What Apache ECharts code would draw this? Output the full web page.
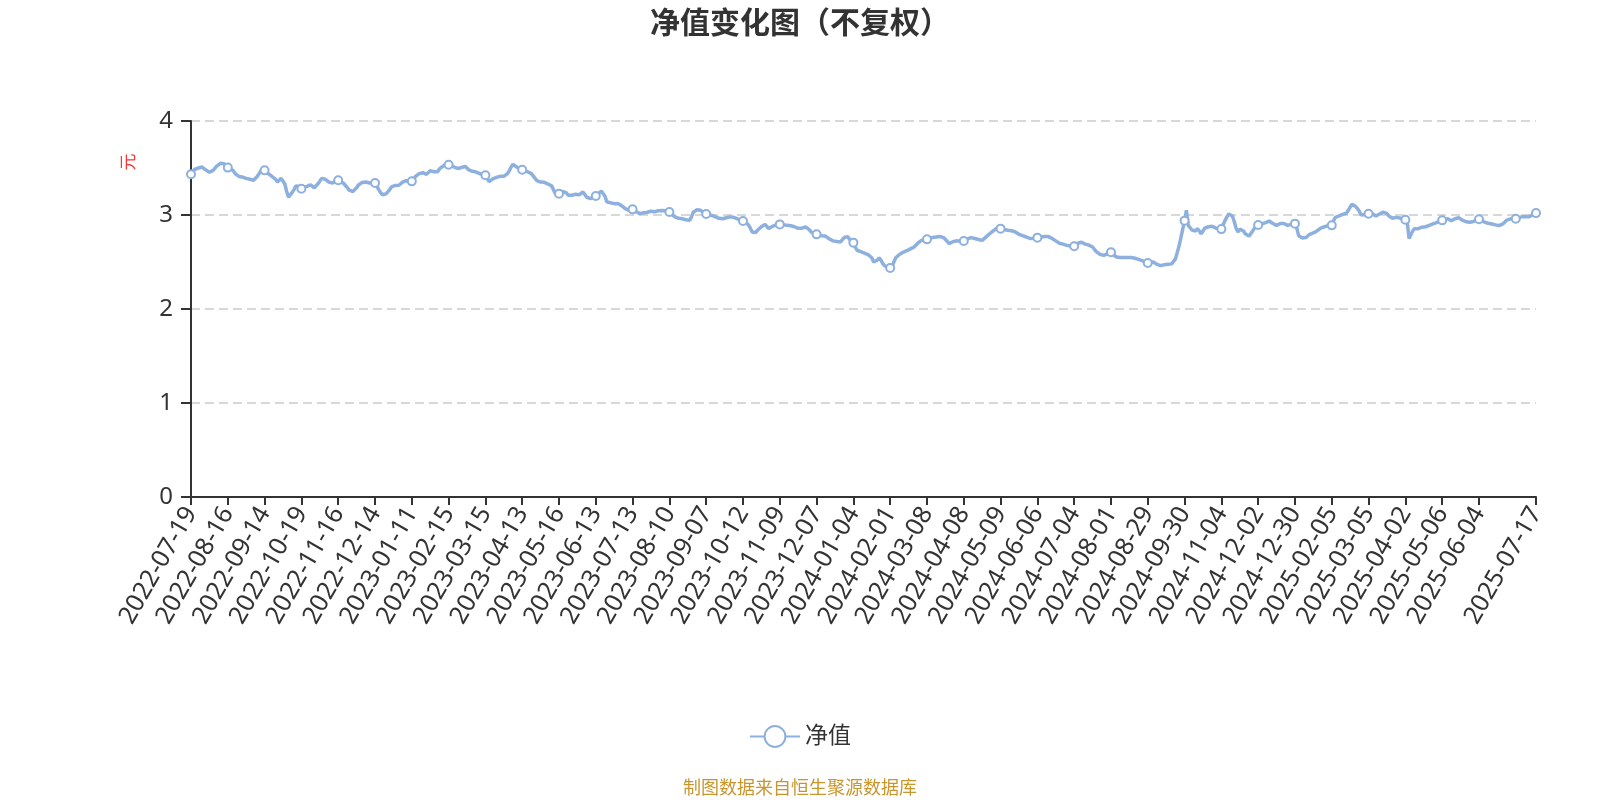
<!DOCTYPE html>
<html>
<head>
<meta charset="utf-8">
<script src="https://cdn.jsdelivr.net/npm/echarts@6/dist/echarts.min.js"></script>
<style>html,body{margin:0;padding:0;background:#fff}#c{width:1600px;height:800px}</style>
</head>
<body>
<div id="c"></div>
<script>
const chartTitle = '净值变化图（不复权）';
const sourceNote = '制图数据来自恒生聚源数据库';
const seriesName = '净值';
const unitName = '元';
const startDate = '2022-07-19';
const endDate = '2025-07-17';
const marketHolidays = [
  '2022-09-12','2022-10-03','2022-10-04','2022-10-05','2022-10-06','2022-10-07',
  '2023-01-02','2023-01-23','2023-01-24','2023-01-25','2023-01-26','2023-01-27',
  '2023-04-05','2023-05-01','2023-05-02','2023-05-03','2023-06-22','2023-06-23',
  '2023-09-29','2023-10-02','2023-10-03','2023-10-04','2023-10-05','2023-10-06',
  '2024-01-01','2024-02-09','2024-02-12','2024-02-13','2024-02-14','2024-02-15','2024-02-16',
  '2024-04-04','2024-04-05','2024-05-01','2024-05-02','2024-05-03','2024-06-10',
  '2024-09-16','2024-09-17','2024-10-01','2024-10-02','2024-10-03','2024-10-04','2024-10-07',
  '2025-01-01','2025-01-28','2025-01-29','2025-01-30','2025-01-31','2025-02-03','2025-02-04',
  '2025-04-04','2025-05-01','2025-05-02','2025-05-05','2025-06-02'
];
// quarter-end NAV dates that fall on weekends
const extraNavDates = ['2022-12-31','2023-09-30','2023-12-31','2024-03-31','2024-06-30'];
const navValues = [
3.433,3.46,3.485,3.493,3.50,3.505,3.51,3.505,3.48,3.46,3.455,3.46,3.475,3.49,3.52,3.54,3.55,3.555,3.545,3.52,
3.504,3.50,3.49,3.47,3.44,3.42,3.41,3.405,3.404,3.40,3.39,3.385,3.38,3.376,3.37,3.38,3.41,3.44,3.47,3.49,
3.475,3.46,3.44,3.422,3.41,3.404,3.38,3.351,3.335,3.39,3.36,3.33,3.25,3.19,3.20,3.24,3.27,3.31,3.33,3.30,
3.28,3.29,3.30,3.305,3.31,3.32,3.316,3.29,3.31,3.333,3.36,3.39,3.404,3.38,3.369,3.35,3.333,3.34,3.36,3.37,
3.369,3.36,3.35,3.335,3.316,3.29,3.265,3.245,3.25,3.262,3.29,3.32,3.34,3.345,3.35,3.351,3.345,3.34,3.345,3.34,
3.34,3.31,3.27,3.24,3.215,3.209,3.225,3.245,3.27,3.30,3.31,3.315,3.31,3.316,3.33,3.35,3.369,3.365,3.36,3.355,
3.358,3.38,3.41,3.425,3.44,3.457,3.45,3.44,3.433,3.45,3.47,3.475,3.46,3.447,3.46,3.49,3.511,3.52,3.54,3.546,
3.535,3.53,3.52,3.51,3.50,3.495,3.493,3.505,3.515,3.518,3.50,3.48,3.47,3.465,3.46,3.457,3.45,3.44,3.43,3.422,
3.422,3.39,3.355,3.36,3.385,3.397,3.40,3.405,3.411,3.41,3.411,3.42,3.44,3.47,3.51,3.539,3.53,3.511,3.50,3.49,
3.482,3.475,3.465,3.46,3.457,3.44,3.42,3.39,3.365,3.355,3.35,3.352,3.348,3.345,3.33,3.32,3.31,3.27,3.23,3.225,
3.227,3.24,3.25,3.255,3.235,3.21,3.199,3.21,3.216,3.22,3.218,3.215,3.216,3.245,3.22,3.19,3.175,3.174,3.18,3.19,
3.202,3.22,3.24,3.255,3.262,3.20,3.14,3.135,3.13,3.125,3.121,3.12,3.122,3.12,3.10,3.08,3.067,3.055,3.05,3.055,
3.06,3.05,3.035,3.02,3.015,3.014,3.025,3.032,3.03,3.035,3.04,3.039,3.035,3.04,3.045,3.05,3.048,3.05,3.045,3.04,
3.032,3.01,2.99,2.979,2.97,2.965,2.962,2.96,2.955,2.95,2.945,2.943,2.98,3.03,3.05,3.055,3.057,3.05,3.035,3.02,
3.011,3.005,3.0,2.995,2.986,2.98,2.975,2.965,2.96,2.96,2.965,2.97,2.975,2.98,2.979,2.975,2.97,2.96,2.95,2.94,
2.936,2.925,2.91,2.894,2.86,2.82,2.80,2.815,2.84,2.855,2.875,2.89,2.90,2.88,2.855,2.865,2.88,2.89,2.895,2.90,
2.90,2.898,2.895,2.894,2.89,2.888,2.885,2.883,2.875,2.865,2.858,2.855,2.86,2.868,2.872,2.865,2.845,2.82,2.805,2.798,
2.794,2.79,2.785,2.78,2.775,2.773,2.76,2.745,2.732,2.725,2.72,2.718,2.715,2.713,2.73,2.76,2.775,2.77,2.74,2.715,
2.706,2.66,2.625,2.615,2.61,2.603,2.595,2.585,2.578,2.565,2.545,2.50,2.489,2.52,2.543,2.52,2.482,2.46,2.445,2.438,
2.436,2.45,2.50,2.545,2.56,2.58,2.595,2.603,2.61,2.62,2.63,2.64,2.65,2.66,2.68,2.70,2.72,2.73,2.735,2.74,
2.741,2.75,2.755,2.76,2.765,2.766,2.77,2.772,2.773,2.76,2.748,2.72,2.695,2.70,2.715,2.723,2.725,2.72,2.722,2.723,
2.723,2.735,2.745,2.755,2.759,2.755,2.75,2.748,2.74,2.732,2.73,2.745,2.765,2.784,2.80,2.815,2.83,2.845,2.86,2.87,
2.855,2.85,2.845,2.84,2.837,2.835,2.832,2.83,2.82,2.805,2.795,2.785,2.78,2.772,2.766,2.76,2.75,2.748,2.752,2.756,
2.759,2.762,2.765,2.77,2.772,2.773,2.77,2.76,2.75,2.738,2.725,2.712,2.70,2.695,2.69,2.685,2.677,2.672,2.67,2.668,
2.667,2.685,2.70,2.713,2.71,2.70,2.69,2.688,2.68,2.67,2.66,2.64,2.61,2.59,2.582,2.575,2.571,2.575,2.585,2.595,
2.603,2.58,2.56,2.553,2.55,2.548,2.55,2.547,2.546,2.548,2.545,2.547,2.546,2.54,2.535,2.528,2.525,2.515,2.50,2.492,
2.489,2.492,2.495,2.50,2.49,2.475,2.465,2.461,2.465,2.47,2.472,2.475,2.478,2.48,2.482,2.53,2.60,2.67,2.76,2.85,
2.94,3.05,2.89,2.87,2.84,2.835,2.83,2.855,2.83,2.80,2.83,2.86,2.87,2.875,2.878,2.88,2.87,2.86,2.855,2.85,
2.85,2.90,2.94,2.98,3.01,3.02,2.99,2.93,2.86,2.82,2.85,2.865,2.83,2.80,2.785,2.775,2.79,2.83,2.86,2.88,
2.894,2.90,2.905,2.91,2.92,2.93,2.936,2.925,2.91,2.895,2.89,2.90,2.91,2.915,2.91,2.90,2.89,2.895,2.90,2.905,
2.908,2.86,2.78,2.765,2.755,2.748,2.76,2.78,2.795,2.80,2.81,2.82,2.83,2.845,2.86,2.872,2.875,2.88,2.885,2.888,
2.89,2.94,2.975,2.985,2.99,3.0,3.007,3.015,3.021,3.05,3.085,3.115,3.11,3.09,3.067,3.04,3.0,2.995,3.005,3.012,
3.014,3.015,3.014,3.0,2.99,2.985,3.01,3.03,3.032,3.025,3.014,2.99,2.97,2.965,2.972,2.975,2.97,2.968,2.96,2.955,
2.95,2.93,2.75,2.79,2.83,2.855,2.86,2.855,2.86,2.87,2.872,2.875,2.88,2.89,2.90,2.905,2.91,2.92,2.93,2.94,
2.943,2.95,2.958,2.961,2.95,2.938,2.945,2.96,2.975,2.97,2.96,2.945,2.935,2.928,2.925,2.922,2.918,2.93,2.945,2.952,
2.954,2.945,2.932,2.925,2.918,2.912,2.908,2.905,2.90,2.895,2.89,2.888,2.89,2.905,2.925,2.943,2.95,2.958,2.96,2.962,
2.961,2.965,2.972,2.98,2.986,2.985,2.982,2.98,2.99,3.0,3.01,3.02
];
const yTicks = [0, 1, 2, 3, 4];

function navDays(start, end, holidays, extras) {
  const hs = new Set(holidays);
  const ex = new Set(extras);
  const out = [];
  const d = new Date(start + 'T00:00:00Z');
  const e = new Date(end + 'T00:00:00Z');
  while (d <= e) {
    const w = d.getUTCDay();
    const s = d.toISOString().slice(0, 10);
    if ((w !== 0 && w !== 6 && !hs.has(s)) || ex.has(s)) out.push(s);
    d.setUTCDate(d.getUTCDate() + 1);
  }
  return out;
}
const dates = navDays(startDate, endDate, marketHolidays, extraNavDates);

const FONT = "'Noto Sans', 'Noto Sans CJK SC', sans-serif";
const lineColor = '#8db0de';
const chart = echarts.init(document.getElementById('c'));
chart.setOption({
  animation: false,
  backgroundColor: '#fff',
  textStyle: { fontFamily: FONT },
  title: [
    { text: chartTitle, left: 'center', top: 4,
      textStyle: { fontSize: 30, fontWeight: 'bold', color: '#333', fontFamily: FONT } },
    { text: sourceNote, left: 'center', top: 775,
      textStyle: { fontSize: 18, fontWeight: 'normal', color: '#c8962d', fontFamily: FONT } }
  ],
  legend: {
    data: [seriesName], left: 'center', top: 720,
    itemWidth: 50, itemHeight: 26,
    textStyle: { fontSize: 23, color: '#333', fontFamily: FONT }
  },
  grid: { left: 191, right: 64, top: 121, bottom: 303 },
  xAxis: {
    type: 'category', data: dates, boundaryGap: false,
    axisLine: { lineStyle: { color: '#333', width: 2 } },
    axisTick: { length: 8, lineStyle: { color: '#333', width: 2 } },
    axisLabel: { interval: 19, rotate: 60, fontSize: 25, color: '#333', margin: 12,
                 showMaxLabel: true, fontFamily: FONT }
  },
  yAxis: {
    type: 'value', min: yTicks[0], max: yTicks[yTicks.length - 1], interval: 1,
    axisLine: { show: true, lineStyle: { color: '#333', width: 2 } },
    axisTick: { show: true, length: 10, lineStyle: { color: '#333', width: 2 } },
    axisLabel: { fontSize: 24, color: '#333', margin: 18, fontFamily: FONT },
    splitLine: { show: true, lineStyle: { type: [9, 5], color: '#ccc', width: 1.5 } }
  },
  graphic: [{
    type: 'text', x: 129, y: 162, rotation: Math.PI / 2,
    style: { text: unitName, fill: '#f33', fontSize: 17, align: 'center', verticalAlign: 'middle', fontFamily: FONT }
  }],
  series: [{
    name: seriesName, type: 'line', data: navValues,
    symbol: 'emptyCircle', symbolSize: 8,
    lineStyle: { width: 3.5, color: lineColor },
    itemStyle: { color: lineColor, borderWidth: 2 }
  }]
});
</script>
</body>
</html>
